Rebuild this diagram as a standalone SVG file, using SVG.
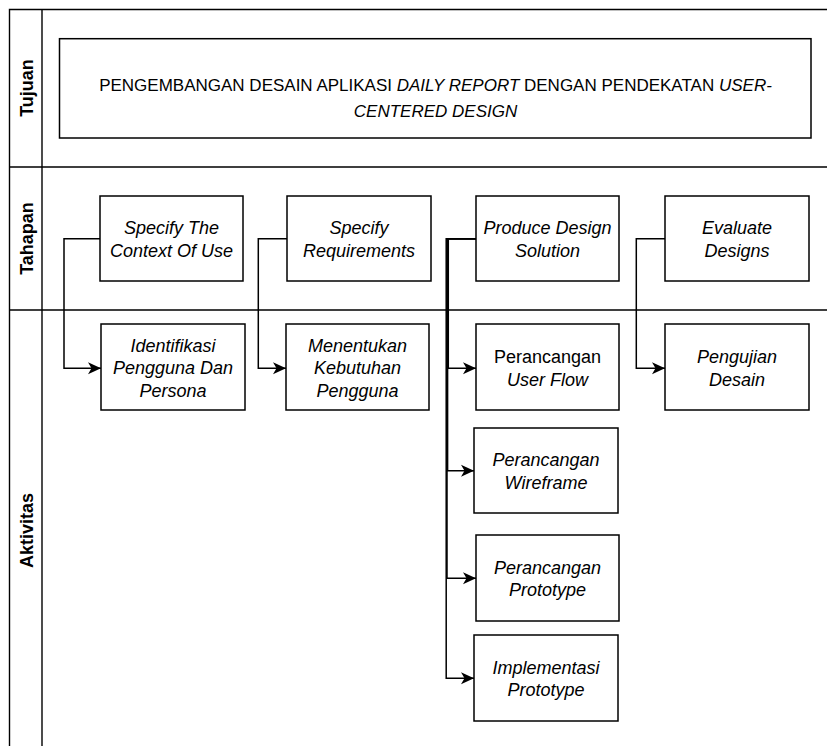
<svg xmlns="http://www.w3.org/2000/svg" width="827" height="746" viewBox="0 0 827 746">
  <style>
    .lane { fill: none; stroke: #000; stroke-width: 1.4; }
    .box { fill: #fff; stroke: #000; stroke-width: 1.5; }
    .edge { fill: none; stroke: #000; stroke-width: 1.5; }
    .t { font-family: "Liberation Sans", Arial, Helvetica, sans-serif; font-size: 18px; fill: #000; text-anchor: middle; }
    .i { font-style: italic; }
    .title { font-size: 17px; }
    .hdr { font-family: "Liberation Sans", Arial, Helvetica, sans-serif; font-size: 18px; font-weight: bold; fill: #000; text-anchor: middle; }
  </style>
  <defs>
    <marker id="arrow" markerUnits="userSpaceOnUse" markerWidth="14" markerHeight="14" refX="13" refY="7" orient="auto">
      <path d="M0,1 L13,7 L0,13 L3.5,7 Z" fill="#000"/>
    </marker>
  </defs>

  <rect width="827" height="746" fill="#fff"/>

  <!-- swimlanes -->
  <g id="lanes">
    <path class="lane" d="M9.5,752 V9.5 H828 M42,9.5 V752 M9.5,167 H828 M9.5,310 H828"/>
    <text class="hdr" transform="translate(33,88) rotate(-90)">Tujuan</text>
    <text class="hdr" transform="translate(33,238.5) rotate(-90)">Tahapan</text>
    <text class="hdr" transform="translate(33,530.5) rotate(-90)">Aktivitas</text>
  </g>

  <!-- goal -->
  <g id="tujuan">
    <rect class="box" x="59.5" y="38.7" width="751.5" height="99.3"/>
    <text class="t title" x="435.5" y="90.7">PENGEMBANGAN DESAIN APLIKASI <tspan class="i">DAILY REPORT</tspan> DENGAN PENDEKATAN <tspan class="i">USER-</tspan></text>
    <text class="t title i" x="435.5" y="117">CENTERED DESIGN</text>
  </g>

  <!-- connectors -->
  <g id="connectors">
    <path class="edge" d="M100,238.7 H64 V368.3 H101" marker-end="url(#arrow)"/>
    <path class="edge" d="M287,238.7 H258.3 V368.3 H286" marker-end="url(#arrow)"/>
    <path class="edge" d="M476,238.7 H448.3 V368.3 H476" marker-end="url(#arrow)"/>
    <path class="edge" d="M476,238.7 H447.6 V470.7 H474" marker-end="url(#arrow)"/>
    <path class="edge" d="M476,238.7 H447 V578.3 H476" marker-end="url(#arrow)"/>
    <path class="edge" d="M476,238.7 H446.2 V678.3 H474" marker-end="url(#arrow)"/>
    <path class="edge" d="M665,238.7 H636.3 V368.3 H665" marker-end="url(#arrow)"/>
  </g>

  <!-- stages -->
  <g id="specify-context">
    <rect class="box" x="100" y="196" width="143" height="85"/>
    <text class="t i" x="171.5" y="234">Specify The</text>
    <text class="t i" x="171.5" y="256.5">Context Of Use</text>
  </g>
  <g id="specify-requirements">
    <rect class="box" x="287" y="196" width="144" height="85"/>
    <text class="t i" x="359" y="234">Specify</text>
    <text class="t i" x="359" y="256.5">Requirements</text>
  </g>
  <g id="produce-design">
    <rect class="box" x="476" y="196" width="143" height="85"/>
    <text class="t i" x="547.5" y="234">Produce Design</text>
    <text class="t i" x="547.5" y="256.5">Solution</text>
  </g>
  <g id="evaluate-designs">
    <rect class="box" x="665" y="196" width="144" height="85"/>
    <text class="t i" x="737" y="234">Evaluate</text>
    <text class="t i" x="737" y="256.5">Designs</text>
  </g>

  <!-- activities -->
  <g id="identifikasi">
    <rect class="box" x="101" y="324" width="144" height="86"/>
    <text class="t i" x="173" y="351.5">Identifikasi</text>
    <text class="t i" x="173" y="374">Pengguna Dan</text>
    <text class="t i" x="173" y="396.5">Persona</text>
  </g>
  <g id="menentukan">
    <rect class="box" x="286" y="324" width="143" height="86"/>
    <text class="t i" x="357.5" y="351.5">Menentukan</text>
    <text class="t i" x="357.5" y="374">Kebutuhan</text>
    <text class="t i" x="357.5" y="396.5">Pengguna</text>
  </g>
  <g id="user-flow">
    <rect class="box" x="476" y="324" width="143" height="86"/>
    <text class="t" x="547.5" y="363">Perancangan</text>
    <text class="t i" x="547.5" y="385.5">User Flow</text>
  </g>
  <g id="pengujian">
    <rect class="box" x="665" y="324" width="144" height="86"/>
    <text class="t i" x="737" y="363">Pengujian</text>
    <text class="t i" x="737" y="385.5">Desain</text>
  </g>
  <g id="wireframe">
    <rect class="box" x="474" y="428" width="144" height="85"/>
    <text class="t i" x="546" y="466">Perancangan</text>
    <text class="t i" x="546" y="488.5">Wireframe</text>
  </g>
  <g id="prototype">
    <rect class="box" x="476" y="535" width="143" height="86"/>
    <text class="t i" x="547.5" y="573.5">Perancangan</text>
    <text class="t i" x="547.5" y="596">Prototype</text>
  </g>
  <g id="implementasi">
    <rect class="box" x="474" y="635" width="144" height="86"/>
    <text class="t i" x="546" y="673.5">Implementasi</text>
    <text class="t i" x="546" y="696">Prototype</text>
  </g>
</svg>
